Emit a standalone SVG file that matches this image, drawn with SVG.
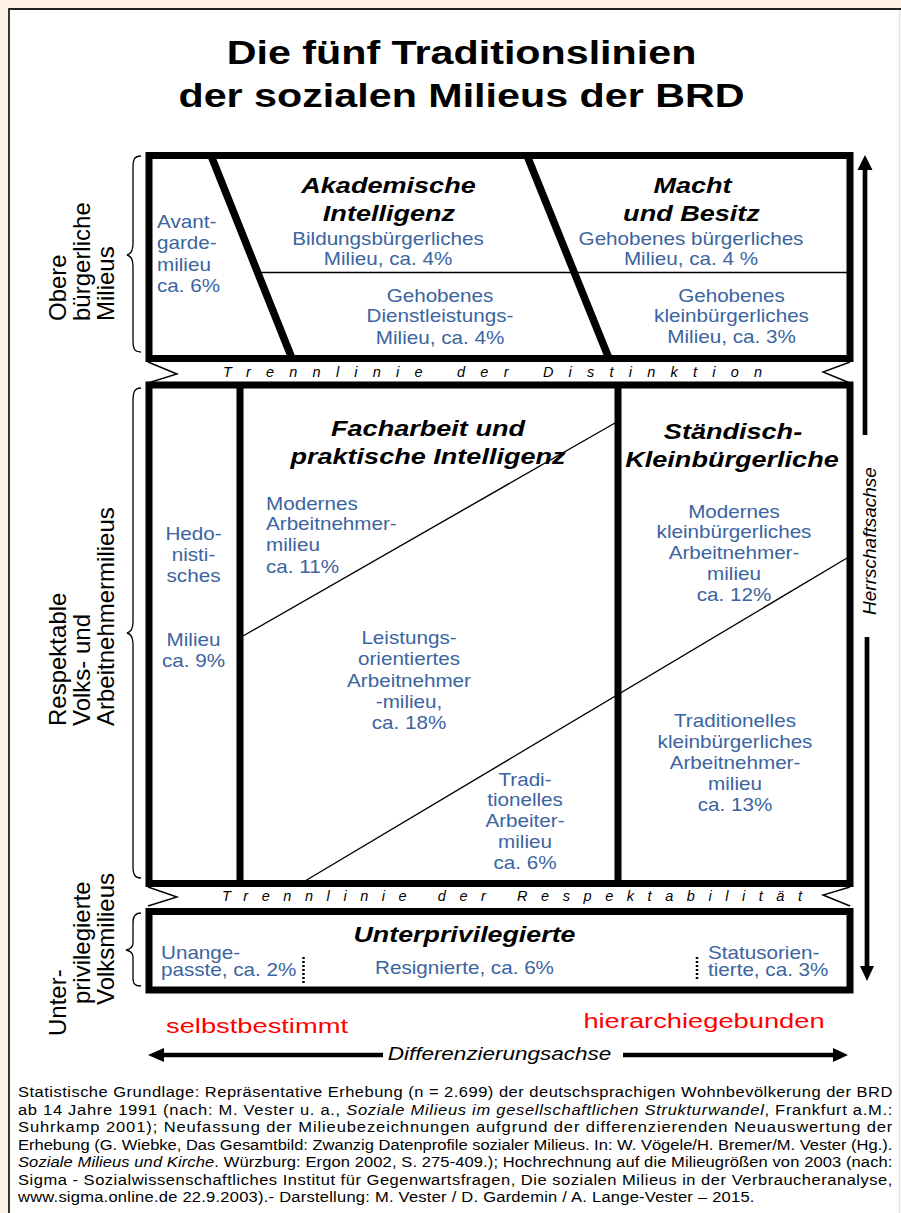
<svg xmlns="http://www.w3.org/2000/svg" width="901" height="1213" viewBox="0 0 901 1213">
<style>
text{font-family:"Liberation Sans",Arial,Helvetica,sans-serif}
.t{font-size:33px;font-weight:bold;text-anchor:middle}
.h{font-size:22px;font-weight:bold;font-style:italic;text-anchor:middle}
.b{font-size:17.5px;fill:#3b64a0}
.m{text-anchor:middle}
.side{font-size:24px}
.tl{font-size:14.5px;font-style:italic}
.red{font-size:21px;fill:#ff0000;text-anchor:middle}
.ft{font-size:14.5px}
.box{fill:none;stroke:#000;stroke-width:7}
.thick{stroke:#000;stroke-width:7.5}
.thin{stroke:#000;stroke-width:1.4;fill:none}
.brace{fill:none;stroke:#000;stroke-width:1.3}
.dot{stroke:#000;stroke-width:2.5;stroke-dasharray:2 2}
.ax{stroke:#000;stroke-width:4.7}
</style>
<g id="frame">
<rect width="901" height="1213" fill="#fdf1e6"/>
<rect x="9" y="9" width="892" height="1204" fill="#fff"/>
<path d="M9,1213 V9 H901" fill="none" stroke="#222" stroke-width="1.8"/>
<line x1="899.5" y1="10" x2="899.5" y2="1213" stroke="#e4e4e4" stroke-width="1.5"/>
</g>
<g id="title">
<text class="t" transform="translate(461.5,63.5) scale(1.25,1)">Die fünf Traditionslinien</text>
<text class="t" transform="translate(461.5,107) scale(1.25,1)">der sozialen Milieus der BRD</text>
</g>
<g id="box-obere">
<rect class="box" x="149" y="155.5" width="701" height="203"/>
<text class="side" transform="translate(66,321) rotate(-90)">Obere</text>
<text class="side" transform="translate(90,321) rotate(-90)">bürgerliche</text>
<text class="side" transform="translate(114,321) rotate(-90)">Milieus</text>
<path class="brace" d="M141,156 C134,156 133,160 133,168 L133,244 C133,251 131,254 127,255 C131,256 133,259 133,266 L133,340 C133,348 134,352 141,352"/>
</g>
<g id="node-avantgarde">
<text class="b" transform="translate(157,228.3) scale(1.18,1)"><tspan x="0">Avant-</tspan><tspan x="0" dy="21.2">garde-</tspan><tspan x="0" dy="21.2">milieu</tspan><tspan x="0" dy="21.2">ca. 6%</tspan></text>
</g>
<g id="node-akademische">
<text class="h" transform="translate(388.5,193) scale(1.23,1)">Akademische</text>
<text class="h" transform="translate(389,221) scale(1.23,1)">Intelligenz</text>
<text class="b m" transform="translate(388,244.5) scale(1.18,1)"><tspan x="0">Bildungsbürgerliches</tspan><tspan x="0" dy="21">Milieu, ca. 4%</tspan></text>
</g>
<g id="node-dienstleistung">
<text class="b m" transform="translate(440,301.5) scale(1.18,1)"><tspan x="0">Gehobenes</tspan><tspan x="0" dy="21">Dienstleistungs-</tspan><tspan x="0" dy="21.5">Milieu, ca. 4%</tspan></text>
</g>
<g id="node-macht">
<text class="h" transform="translate(692.5,193) scale(1.23,1)">Macht</text>
<text class="h" transform="translate(691.5,220.5) scale(1.23,1)">und Besitz</text>
<text class="b m" transform="translate(691,244.5) scale(1.18,1)"><tspan x="0">Gehobenes bürgerliches</tspan><tspan x="0" dy="21">Milieu, ca. 4 %</tspan></text>
</g>
<g id="node-kleinbuergerlich-gehoben">
<text class="b m" transform="translate(731.5,301.5) scale(1.18,1)"><tspan x="0">Gehobenes</tspan><tspan x="0" dy="21">kleinbürgerliches</tspan><tspan x="0" dy="21">Milieu, ca. 3%</tspan></text>
</g>
<g id="trenn-distinktion">
<path class="thin" d="M148,362 L177,374 L148,383"/>
<path class="thin" d="M850,362 L823,372 L850,383"/>
<text class="tl" x="223" y="376.5" textLength="539" lengthAdjust="spacing">Trennlinie der Distinktion</text>
</g>
<g id="box-respektable">
<rect class="box" x="149" y="385" width="701" height="498.5"/>
<text class="side" transform="translate(66,726) rotate(-90)">Respektable</text>
<text class="side" transform="translate(90,726) rotate(-90)">Volks- und</text>
<text class="side" transform="translate(114,726) rotate(-90)">Arbeitnehmermilieus</text>
<path class="brace" d="M141,388 C134,388 133,393 133,401 L133,622 C133,629 131,632 127,633 C131,634 133,637 133,644 L133,866 C133,873 134,878 141,878"/>
</g>
<g id="node-hedonistisch">
<text class="b m" transform="translate(193.5,539.5) scale(1.18,1)"><tspan x="0">Hedo-</tspan><tspan x="0" dy="21.2">nisti-</tspan><tspan x="0" dy="21.5">sches</tspan><tspan x="0" dy="63.5">Milieu</tspan><tspan x="0" dy="21">ca. 9%</tspan></text>
</g>
<g id="node-facharbeit">
<text class="h" transform="translate(428,436) scale(1.23,1)">Facharbeit und</text>
<text class="h" transform="translate(428,464) scale(1.23,1)">praktische Intelligenz</text>
</g>
<g id="node-modernes-arbeitnehmer">
<text class="b" transform="translate(266,509.5) scale(1.18,1)"><tspan x="0">Modernes</tspan><tspan x="0" dy="21">Arbeitnehmer-</tspan><tspan x="0" dy="21">milieu</tspan><tspan x="0" dy="21.5">ca. 11%</tspan></text>
</g>
<g id="node-leistungsorientiert">
<text class="b m" transform="translate(409,643.5) scale(1.18,1)"><tspan x="0">Leistungs-</tspan><tspan x="0" dy="22">orientiertes</tspan><tspan x="0" dy="22">Arbeitnehmer</tspan><tspan x="0" dy="21">-milieu,</tspan><tspan x="0" dy="21">ca. 18%</tspan></text>
</g>
<g id="node-traditionelles-arbeiter">
<text class="b m" transform="translate(525,785.5) scale(1.18,1)"><tspan x="0">Tradi-</tspan><tspan x="0" dy="21">tionelles</tspan><tspan x="0" dy="21">Arbeiter-</tspan><tspan x="0" dy="21">milieu</tspan><tspan x="0" dy="21">ca. 6%</tspan></text>
</g>
<g id="node-staendisch">
<text class="h" transform="translate(733,439) scale(1.23,1)">Ständisch-</text>
<text class="h" transform="translate(732,467) scale(1.23,1)">Kleinbürgerliche</text>
</g>
<g id="node-modernes-kleinbuergerlich">
<text class="b m" transform="translate(734,517.5) scale(1.18,1)"><tspan x="0">Modernes</tspan><tspan x="0" dy="21">kleinbürgerliches</tspan><tspan x="0" dy="21">Arbeitnehmer-</tspan><tspan x="0" dy="21">milieu</tspan><tspan x="0" dy="21">ca. 12%</tspan></text>
</g>
<g id="node-traditionelles-kleinbuergerlich">
<text class="b m" transform="translate(735,726.5) scale(1.18,1)"><tspan x="0">Traditionelles</tspan><tspan x="0" dy="22">kleinbürgerliches</tspan><tspan x="0" dy="21">Arbeitnehmer-</tspan><tspan x="0" dy="21">milieu</tspan><tspan x="0" dy="21">ca. 13%</tspan></text>
</g>
<g id="trenn-respektabilitaet">
<path class="thin" d="M148,887 L177,897 L148,906"/>
<path class="thin" d="M850,887 L823,895 L850,906"/>
<text class="tl" x="222" y="901" textLength="580" lengthAdjust="spacing">Trennlinie der Respektabilität</text>
</g>
<g id="box-unterprivilegiert">
<rect class="box" x="149" y="911.5" width="701" height="78.5"/>
<text class="side" transform="translate(66,1036) rotate(-90)">Unter-</text>
<text class="side" transform="translate(90,1004) rotate(-90)">privilegierte</text>
<text class="side" transform="translate(114,1005) rotate(-90)">Volksmilieus</text>
<path class="brace" d="M141,913 C135,913 133,916 133,922 L133,943 C133,947 131,949 126,950 C131,951 133,953 133,957 L133,978 C133,984 135,986 141,986"/>
<text class="h" transform="translate(464.5,942) scale(1.22,1)">Unterprivilegierte</text>
</g>
<g id="node-unangepasste">
<text class="b" transform="translate(161,958.5) scale(1.18,1)"><tspan x="0">Unange-</tspan><tspan x="0" dy="17.5">passte, ca. 2%</tspan></text>
</g>
<g id="node-resignierte">
<text class="b m" transform="translate(464.5,974) scale(1.18,1)">Resignierte, ca. 6%</text>
</g>
<g id="node-statusorientierte">
<text class="b" transform="translate(708,958.5) scale(1.18,1)"><tspan x="0">Statusorien-</tspan><tspan x="0" dy="17.5">tierte, ca. 3%</tspan></text>
</g>
<g id="connectors">
<line class="thick" x1="211" y1="155.5" x2="292" y2="358.5"/>
<line class="thick" x1="527" y1="155.5" x2="609" y2="358.5"/>
<line class="thin" x1="258" y1="272.5" x2="847" y2="272.5"/>
<line class="box" x1="240" y1="385" x2="240" y2="883.5"/>
<line class="box" x1="618" y1="385" x2="618" y2="883.5"/>
<line class="thin" x1="243" y1="636" x2="615" y2="423"/>
<line class="thin" x1="305" y1="881" x2="847" y2="558"/>
<line class="dot" x1="303.5" y1="957" x2="303.5" y2="985"/>
<line class="dot" x1="697" y1="957" x2="697" y2="979"/>
</g>
<g id="axis-herrschaft">
<line class="ax" x1="865" y1="168" x2="865" y2="435"/>
<polygon points="865,155 857.5,170 872.5,170"/>
<line class="ax" x1="867" y1="637" x2="867" y2="968"/>
<polygon points="867,981 860,966 874,966"/>
<text transform="translate(876,541) rotate(-90)" font-size="19" font-style="italic" text-anchor="middle">Herrschaftsachse</text>
</g>
<g id="axis-differenzierung">
<text class="red" transform="translate(257,1033) scale(1.3,1)">selbstbestimmt</text>
<text class="red" transform="translate(704,1028) scale(1.3,1)">hierarchiegebunden</text>
<line class="ax" x1="160" y1="1055" x2="383" y2="1055"/>
<polygon points="148,1055 164,1048 164,1062"/>
<line class="ax" x1="623" y1="1055" x2="836" y2="1055"/>
<polygon points="848,1055 833,1048 833,1062"/>
<text transform="translate(499.5,1060) scale(1.25,1)" font-size="18" font-style="italic" text-anchor="middle">Differenzierungsachse</text>
</g>
<g id="footer" class="ft">
<text class="ft" transform="translate(18,1097) scale(1.14,1)" textLength="767" lengthAdjust="spacing">Statistische Grundlage: Repräsentative Erhebung (n = 2.699) der deutschsprachigen Wohnbevölkerung der BRD</text>
<text class="ft" transform="translate(18,1114.5) scale(1.14,1)" textLength="767" lengthAdjust="spacing">ab 14 Jahre 1991 (nach: M. Vester u. a., <tspan font-style="italic">Soziale Milieus im gesellschaftlichen Strukturwandel</tspan>, Frankfurt a.M.:</text>
<text class="ft" transform="translate(18,1132) scale(1.14,1)" textLength="767" lengthAdjust="spacing">Suhrkamp 2001); Neufassung der Milieubezeichnungen aufgrund der differenzierenden Neuauswertung der</text>
<text class="ft" transform="translate(18,1149.5) scale(1.14,1)" textLength="767" lengthAdjust="spacing">Erhebung (G. Wiebke, Das Gesamtbild: Zwanzig Datenprofile sozialer Milieus. In: W. Vögele/H. Bremer/M. Vester (Hg.).</text>
<text class="ft" transform="translate(18,1167) scale(1.14,1)" textLength="767" lengthAdjust="spacing"><tspan font-style="italic">Soziale Milieus und Kirche</tspan>. Würzburg: Ergon 2002, S. 275-409.); Hochrechnung auf die Milieugrößen von 2003 (nach:</text>
<text class="ft" transform="translate(18,1184.5) scale(1.14,1)" textLength="767" lengthAdjust="spacing">Sigma - Sozialwissenschaftliches Institut für Gegenwartsfragen, Die sozialen Milieus in der Verbraucheranalyse,</text>
<text class="ft" transform="translate(18,1202) scale(1.14,1)" textLength="646" lengthAdjust="spacing">www.sigma.online.de 22.9.2003).- Darstellung: M. Vester / D. Gardemin / A. Lange-Vester – 2015.</text>
</g>
</svg>
